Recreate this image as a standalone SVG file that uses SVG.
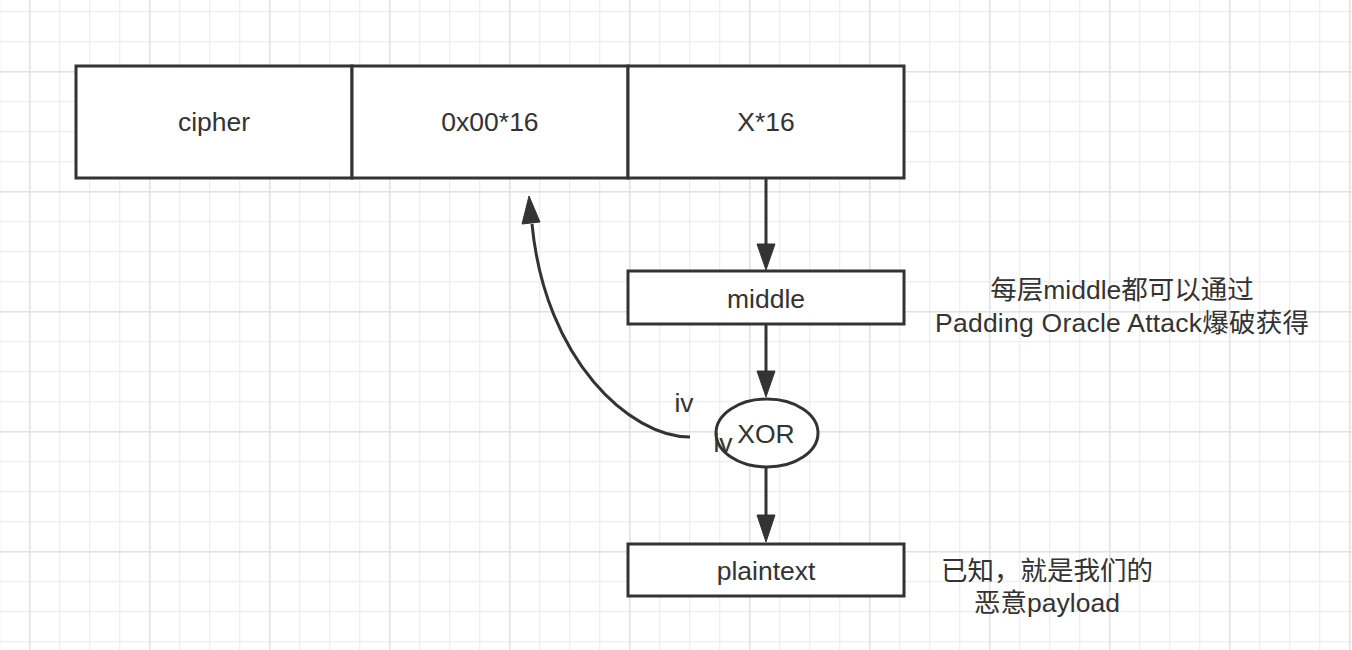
<svg xmlns="http://www.w3.org/2000/svg" width="1352" height="650" viewBox="0 0 1352 650">
<style>
.box{fill:#fff;stroke:#333;stroke-width:3}
.edge{fill:none;stroke:#333;stroke-width:3}
.head{fill:#333;stroke:#333;stroke-width:1;stroke-linejoin:round}
.lbl{font-family:"Liberation Sans","Noto Sans CJK SC",sans-serif;font-size:26.5px;fill:#333;text-anchor:middle}
.note{font-family:"Liberation Sans","Noto Sans CJK SC",sans-serif;font-size:26.5px;fill:#333;text-anchor:middle}
</style>
<defs>
<pattern id="minor" patternUnits="userSpaceOnUse" x="29" y="11" width="30" height="30">
<path d="M0 0.5H30M0.5 0V30" stroke="#eeeeee" stroke-width="1.6" fill="none"/>
</pattern>
<pattern id="major" patternUnits="userSpaceOnUse" x="29" y="71" width="120" height="120">
<path d="M0 0.5H120M0.5 0V120" stroke="#e2e2e2" stroke-width="2" fill="none"/>
</pattern>
</defs>
<rect width="1352" height="650" fill="#fff"/>
<rect width="1352" height="650" fill="url(#minor)"/>
<rect width="1352" height="650" fill="url(#major)"/>

<g id="connectors">
<line class="edge" x1="766" y1="178" x2="766" y2="246"/>
<polygon class="head" points="757,244 775,244 766,270"/>
<line class="edge" x1="766" y1="324" x2="766" y2="373"/>
<polygon class="head" points="757,371 775,371 766,397"/>
<line class="edge" x1="766" y1="467" x2="766" y2="517"/>
<polygon class="head" points="757,515 775,515 766,542"/>
<path class="edge" d="M690,437 C630,437 545,360 532,224"/>
<polygon class="head" points="522,224 540,222 529,196"/>
</g>

<g id="cipher">
<rect class="box" x="76" y="66" width="276" height="112"/>
<text class="lbl" x="214" y="131">cipher</text>
</g>
<g id="zeros">
<rect class="box" x="352" y="66" width="276" height="112"/>
<text class="lbl" x="490" y="131">0x00*16</text>
</g>
<g id="x16">
<rect class="box" x="628" y="66" width="276" height="112"/>
<text class="lbl" x="766" y="131">X*16</text>
</g>
<g id="middle">
<rect class="box" x="628" y="271" width="276" height="53"/>
<text class="lbl" x="766" y="308">middle</text>
</g>
<g id="xor">
<ellipse class="box" cx="767" cy="433" rx="51" ry="34"/>
<text class="lbl" x="766" y="443">XOR</text>
</g>
<g id="plaintext">
<rect class="box" x="628" y="544" width="276" height="52"/>
<text class="lbl" x="766" y="580">plaintext</text>
</g>
<g id="labels">
<text class="lbl" x="684" y="412">iv</text>
<text class="lbl" x="723" y="452">iv</text>
</g>
<g id="note-middle">
<text class="note" x="1122" y="299">每层middle都可以通过</text>
<text class="note" x="1122" y="332" textLength="374" lengthAdjust="spacing">Padding Oracle Attack爆破获得</text>
</g>
<g id="note-plain">
<text class="note" x="1047" y="580">已知，就是我们的</text>
<text class="note" x="1047" y="612">恶意payload</text>
</g>
</svg>
